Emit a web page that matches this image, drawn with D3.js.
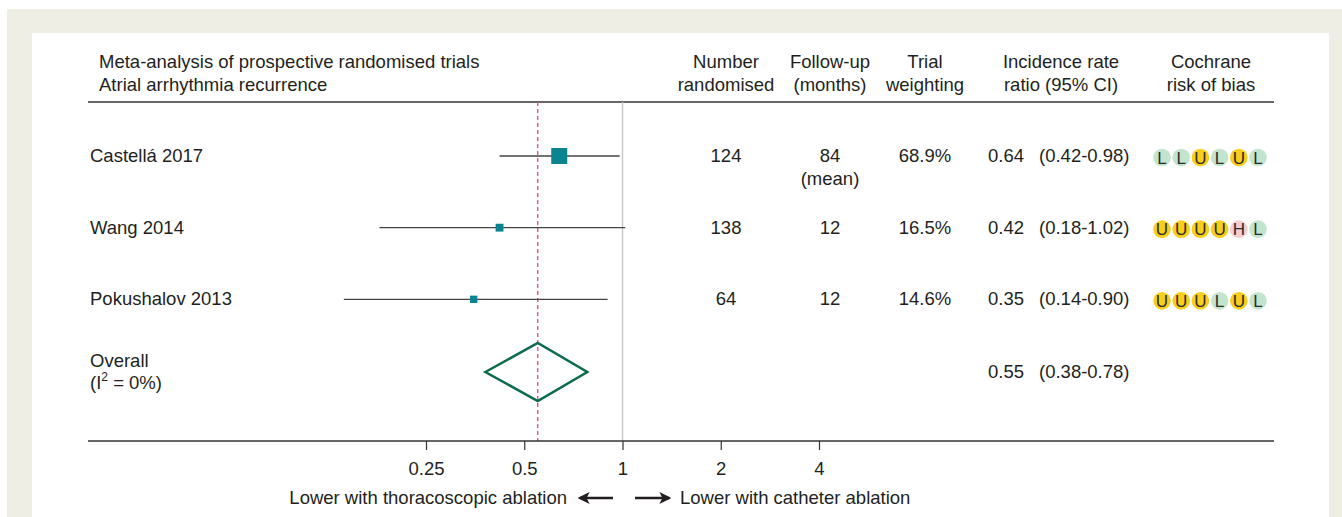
<!DOCTYPE html>
<html>
<head>
<meta charset="utf-8">
<script src="https://cdn.jsdelivr.net/npm/d3@7"></script>
<style>
  body { margin: 0; background: #fff; }
  svg text { font-family: "Liberation Sans", Arial, sans-serif; fill: #231f20; }
</style>
</head>
<body>
<div id="chart"></div>
<script>
// Study data
const studies = ['Castellá 2017', 'Wang 2014', 'Pokushalov 2013'];
const irr = [0.64, 0.42, 0.35];
const ciLow = [0.42, 0.18, 0.14];
const ciHigh = [0.98, 1.02, 0.90];
const randomised = ['124', '138', '64'];
const followUp = ['84', '12', '12'];
const weights = [68.9, 16.5, 14.6];
const bias = [
  ['L', 'L', 'U', 'L', 'U', 'L'],
  ['U', 'U', 'U', 'U', 'H', 'L'],
  ['U', 'U', 'U', 'L', 'U', 'L']
];
const overall = {est: 0.55, low: 0.38, high: 0.78};
const tickValues = [0.25, 0.5, 1, 2, 4];

const W = 1342, H = 517;
const FS = 18.5;
const svg = d3.select('#chart').append('svg')
  .attr('width', W).attr('height', H);

// frame
svg.append('rect').attr('x', 7).attr('y', 9).attr('width', W - 7).attr('height', H - 9).attr('fill', '#efeee4');
svg.append('rect').attr('x', 32).attr('y', 33).attr('width', 1297).attr('height', H - 33).attr('fill', '#fff');

const x = d3.scaleLog().base(2).domain([0.25, 4]).range([426, 819]);
const y = d3.scalePoint().domain([...studies, 'Overall']).range([156, 371]);

const left = 88, right = 1274;
const topLine = 102, axisY = 441;

// header
const hdr = svg.append('g').attr('font-size', FS);
hdr.append('text').attr('x', 99).attr('y', 68).text('Meta-analysis of prospective randomised trials');
hdr.append('text').attr('x', 99).attr('y', 91).text('Atrial arrhythmia recurrence');
const cols = [
  {x: 726, l: ['Number', 'randomised']},
  {x: 830, l: ['Follow-up', '(months)']},
  {x: 925, l: ['Trial', 'weighting']},
  {x: 1061, l: ['Incidence rate', 'ratio (95% CI)']},
  {x: 1211, l: ['Cochrane', 'risk of bias']}
];
cols.forEach(c => {
  c.l.forEach((t, i) => hdr.append('text').attr('x', c.x).attr('y', 68 + i * 23)
    .attr('text-anchor', 'middle').text(t));
});

svg.append('line').attr('x1', left).attr('x2', right).attr('y1', topLine).attr('y2', topLine)
  .attr('stroke', '#333').attr('stroke-width', 1.5);

// reference line at 1 and pooled estimate line
svg.append('line').attr('x1', x(1)).attr('x2', x(1)).attr('y1', topLine).attr('y2', axisY)
  .attr('stroke', '#c8c8c8').attr('stroke-width', 1.5);
svg.append('line').attr('x1', x(overall.est)).attr('x2', x(overall.est)).attr('y1', topLine).attr('y2', axisY)
  .attr('stroke', '#e0506c').attr('stroke-width', 1.3).attr('stroke-dasharray', '4,3');

// study rows
const maxSide = 16;
const biasColor = {L: '#c3e4cd', U: '#f8cd1c', H: '#f6cdcd'};
studies.forEach((s, i) => {
  const yy = y(s);
  svg.append('text').attr('x', 90).attr('y', yy + 6).attr('font-size', FS).text(s);
  svg.append('line').attr('x1', x(ciLow[i])).attr('x2', x(ciHigh[i])).attr('y1', yy).attr('y2', yy)
    .attr('stroke', '#444').attr('stroke-width', 1.3);
  const side = maxSide * Math.sqrt(weights[i] / d3.max(weights));
  svg.append('rect').attr('x', x(irr[i]) - side / 2).attr('y', yy - side / 2)
    .attr('width', side).attr('height', side).attr('fill', '#0b8491');

  svg.append('text').attr('x', 726).attr('y', yy + 6).attr('font-size', FS)
    .attr('text-anchor', 'middle').text(randomised[i]);
  svg.append('text').attr('x', 830).attr('y', yy + 6).attr('font-size', FS)
    .attr('text-anchor', 'middle').text(followUp[i]);
  if (i === 0) {
    svg.append('text').attr('x', 830).attr('y', yy + 29).attr('font-size', FS)
      .attr('text-anchor', 'middle').text('(mean)');
  }
  svg.append('text').attr('x', 925).attr('y', yy + 6).attr('font-size', FS)
    .attr('text-anchor', 'middle').text(weights[i].toFixed(1) + '%');
  svg.append('text').attr('x', 988).attr('y', yy + 6).attr('font-size', FS).text(irr[i].toFixed(2));
  svg.append('text').attr('x', 1039).attr('y', yy + 6).attr('font-size', FS)
    .text('(' + ciLow[i].toFixed(2) + '-' + ciHigh[i].toFixed(2) + ')');

  bias[i].forEach((b, j) => {
    const cx = 1162 + j * 19.2, cy = yy + 1.5;
    svg.append('circle').attr('cx', cx).attr('cy', cy).attr('r', 8.8).attr('fill', biasColor[b]);
    svg.append('text').attr('x', cx).attr('y', cy + 6).attr('font-size', 17)
      .attr('text-anchor', 'middle').style('fill', '#2b2b2b').text(b);
  });
});

// overall
const oy = y('Overall');
svg.append('text').attr('x', 90).attr('y', oy - 4).attr('font-size', FS).text('Overall');
const i2 = svg.append('text').attr('x', 90).attr('y', oy + 18).attr('font-size', FS);
i2.append('tspan').text('(I');
i2.append('tspan').attr('dy', -8).attr('font-size', 12).text('2');
i2.append('tspan').attr('dy', 8).text(' = 0%)');
const dh = 29;
svg.append('polygon')
  .attr('points', [[x(overall.low), oy + 1], [x(overall.est), oy + 1 - dh], [x(overall.high), oy + 1], [x(overall.est), oy + 1 + dh]].map(p => p.join(',')).join(' '))
  .attr('fill', 'none').attr('stroke', '#0c6a4d').attr('stroke-width', 2.5);
svg.append('text').attr('x', 988).attr('y', oy + 7).attr('font-size', FS).text(overall.est.toFixed(2));
svg.append('text').attr('x', 1039).attr('y', oy + 7).attr('font-size', FS)
  .text('(' + overall.low.toFixed(2) + '-' + overall.high.toFixed(2) + ')');

// axis
svg.append('line').attr('x1', left).attr('x2', right).attr('y1', axisY).attr('y2', axisY)
  .attr('stroke', '#333').attr('stroke-width', 1.5);
const ax = svg.append('g').attr('transform', `translate(0,${axisY})`)
  .call(d3.axisBottom(x).tickValues(tickValues).tickFormat(d => String(d)).tickSize(9).tickPadding(12));
ax.select('.domain').remove();
ax.selectAll('.tick line').attr('stroke', '#333').attr('stroke-width', 1.2);
ax.selectAll('.tick text').attr('font-size', FS).attr('fill', '#231f20')
  .attr('font-family', '"Liberation Sans", Arial, sans-serif');

// direction labels
const ly = 504;
svg.append('text').attr('x', 567).attr('y', ly).attr('font-size', FS).attr('text-anchor', 'end')
  .text('Lower with thoracoscopic ablation');
svg.append('text').attr('x', 680).attr('y', ly).attr('font-size', FS).text('Lower with catheter ablation');
svg.append('defs').append('marker').attr('id', 'ah').attr('viewBox', '0 0 10 10')
  .attr('refX', 8).attr('refY', 5).attr('markerWidth', 5).attr('markerHeight', 5).attr('orient', 'auto')
  .append('path').attr('d', 'M0,0 L10,5 L0,10 L2.5,5 z').attr('fill', '#231f20');
svg.append('line').attr('x1', 613).attr('x2', 580).attr('y1', ly - 6).attr('y2', ly - 6)
  .attr('stroke', '#231f20').attr('stroke-width', 2.4).attr('marker-end', 'url(#ah)');
svg.append('line').attr('x1', 635).attr('x2', 669).attr('y1', ly - 6).attr('y2', ly - 6)
  .attr('stroke', '#231f20').attr('stroke-width', 2.4).attr('marker-end', 'url(#ah)');
</script>
</body>
</html>
